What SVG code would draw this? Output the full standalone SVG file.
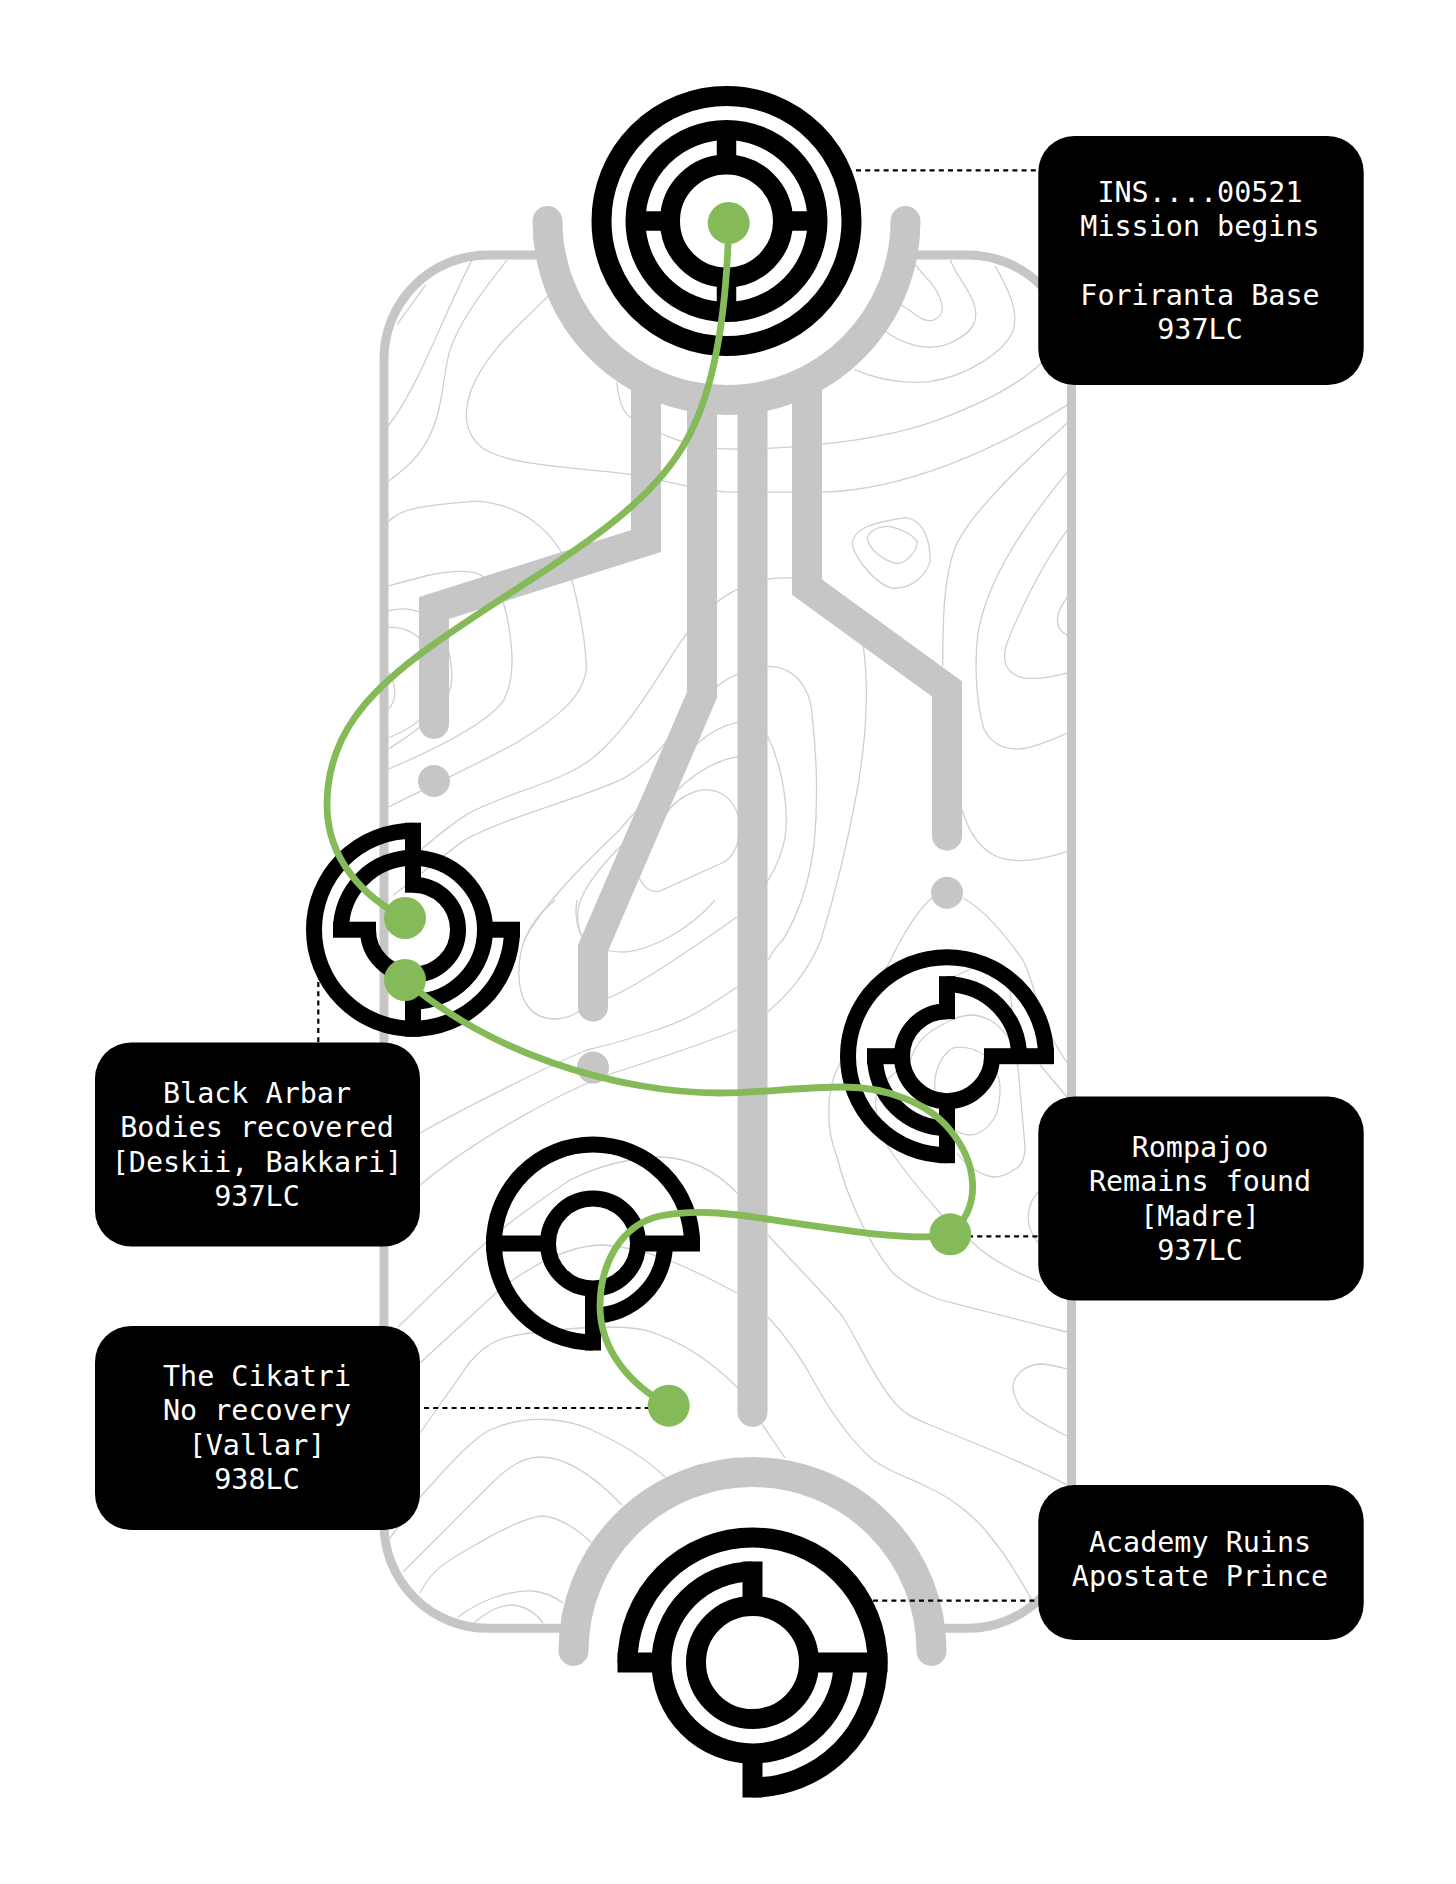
<svg xmlns="http://www.w3.org/2000/svg" width="1456" height="1884" viewBox="0 0 1456 1884">
<style>
.c{fill:none;stroke:#cfcfcf;stroke-width:1.3;vector-effect:non-scaling-stroke}
.bus{fill:none;stroke:#c6c6c6;stroke-width:30;stroke-linecap:round;stroke-linejoin:miter;stroke-miterlimit:10}
.dot{fill:#c6c6c6}
.k{fill:none;stroke:#000;stroke-width:16}
.K{fill:none;stroke:#000;stroke-width:20}
.b{fill:#000}
.lead{fill:none;stroke:#000;stroke-width:2.2;stroke-dasharray:5 4.2}
.g{fill:none;stroke:#84ba58;stroke-width:6.8;stroke-linecap:round}
.gd{fill:#84ba58}
text{font-family:"DejaVu Sans Mono","Liberation Mono",monospace;font-size:28.4px;fill:#fff;text-anchor:middle}
</style>
<defs><clipPath id="mapclip"><rect x="384" y="255" width="687.5" height="1373.3" rx="104"/></clipPath></defs>
<rect width="1456" height="1884" fill="#fff"/>
<g id="contours" clip-path="url(#mapclip)">
<g transform="translate(370 240) scale(.4464)">
<path class="c" d="M228,45C180,140 140,240 105,310C85,350 65,385 42,415"/>
<path class="c" d="M307,45C260,105 200,180 178,250C160,320 165,385 125,455C105,490 75,515 42,540"/>
<path class="c" d="M125,100L60,190"/>
<path class="c" d="M400,125C330,195 260,250 225,340C210,390 210,430 250,465C300,500 400,505 585,525C650,535 740,565 825,565L1012,565C1200,560 1400,470 1562,370"/>
<path class="c" d="M553,318C556,360 570,395 590,400C650,440 730,468 800,468C950,470 1150,450 1280,400C1400,355 1470,310 1510,270"/>
<path class="c" d="M1190,145C1220,165 1240,185 1260,180C1290,170 1285,145 1270,115C1255,90 1235,75 1222,55"/>
<path class="c" d="M1155,205C1190,230 1240,250 1290,235C1340,215 1365,190 1355,150C1345,110 1315,85 1300,45"/>
<path class="c" d="M1085,290C1140,315 1190,322 1250,318C1340,305 1420,250 1440,205C1455,160 1430,110 1400,58"/>
<path class="c" d="M42,630C70,600 120,595 235,585C330,590 400,640 440,720C465,800 480,880 485,950C485,1020 420,1070 330,1125C240,1175 130,1225 42,1270"/>
<path class="c" d="M42,775C110,755 180,735 235,745C280,760 300,800 310,860C320,920 325,980 300,1030C270,1075 170,1130 42,1185"/>
<path class="c" d="M42,830C90,820 120,830 145,860C175,890 185,950 183,990C175,1050 120,1090 42,1140"/>
<path class="c" d="M42,868C80,865 105,885 125,905L140,1040C120,1075 80,1100 42,1115"/>
<path class="c" d="M42,968C60,1000 60,1030 42,1050"/>
<path class="c" d="M945,757C890,755 850,765 800,795C760,820 720,860 680,925C620,1020 570,1100 500,1160C430,1215 300,1240 220,1285C180,1310 150,1335 115,1365"/>
<path class="c" d="M825,972C790,985 750,1020 710,1060C670,1115 640,1165 570,1205C480,1250 310,1290 210,1345L52,1468"/>
<path class="c" d="M825,1080C780,1090 750,1110 710,1150L560,1320C500,1380 400,1470 345,1568"/>
<path class="c" d="M825,1158C770,1165 720,1200 680,1240L575,1345C510,1405 465,1470 465,1510C465,1540 470,1555 480,1568"/>
<path class="c" d="M825,1290C810,1240 770,1225 730,1235C700,1245 675,1265 660,1290L600,1420C610,1450 630,1465 650,1458L790,1395C810,1385 825,1360 825,1335"/>
<path class="c" d="M890,1110C920,1170 935,1250 932,1320C925,1400 880,1450 830,1530"/>
<path class="c" d="M890,955C950,955 985,1000 990,1060C1000,1150 1005,1250 995,1350C985,1440 960,1510 925,1568C905,1585 898,1605 891,1613"/>
<path class="c" d="M1105,910C1120,1020 1110,1130 1090,1240C1070,1350 1040,1470 1010,1568C990,1620 950,1680 891,1729"/>
<path class="c" d="M1080,680C1085,650 1110,635 1200,622C1240,628 1255,670 1255,720C1240,765 1200,782 1170,780C1130,770 1085,710 1080,680Z"/>
<path class="c" d="M1114,668C1120,650 1140,640 1165,642C1195,648 1215,662 1226,675C1225,700 1200,725 1180,725C1150,718 1118,695 1114,668Z"/>
<path class="c" d="M1283,955C1283,850 1285,760 1310,690C1340,620 1440,520 1562,410"/>
<path class="c" d="M1562,520C1480,620 1385,750 1362,880C1352,960 1360,1040 1375,1095C1395,1135 1430,1145 1470,1138C1500,1132 1530,1118 1562,1105"/>
<path class="c" d="M1562,650C1510,720 1460,820 1428,900C1410,950 1430,985 1490,982C1515,982 1540,975 1562,970"/>
<path class="c" d="M1562,800C1535,835 1530,870 1562,885"/>
<path class="c" d="M1326,1275C1345,1340 1380,1390 1450,1390C1490,1392 1530,1380 1562,1370"/>
</g>
<path class="c" d="M555,900C525,925 518,950 519,977C520,1000 530,1018 553,1019C562,1019 572,1016 578,1012L608,998C630,990 690,950 737,917"/>
<path class="c" d="M577,900C574,915 577,925 580,933C590,945 600,952 625,952C650,950 690,930 715,900"/>
<path class="c" d="M737,987C710,1005 690,1020 650,1032C620,1042 600,1047 587,1050C550,1065 470,1105 420,1133"/>
<path class="c" d="M737,1030C700,1045 660,1058 613,1073C570,1088 480,1135 420,1185"/>
<path class="c" d="M398,1327L470,1257C500,1228 540,1200 570,1180C600,1165 630,1158 660,1157C695,1158 720,1175 737,1193"/>
<path class="c" d="M420,1363L497,1292C530,1265 570,1245 603,1245C650,1248 690,1268 737,1293"/>
<path class="c" d="M420,1433L470,1362C490,1338 510,1335 540,1332C580,1327 620,1325 645,1330C680,1340 710,1360 737,1387L785,1458"/>
<path class="c" d="M390,1538L420,1497C445,1470 470,1440 490,1430C530,1412 570,1420 592,1430C620,1443 645,1457 665,1477"/>
<path class="c" d="M403,1572L490,1485C510,1465 525,1457 540,1457C570,1457 600,1482 622,1505"/>
<path class="c" d="M420,1593C430,1572 445,1562 470,1548C500,1530 525,1518 542,1516C560,1517 578,1530 592,1543"/>
<path class="c" d="M458,1617C480,1600 510,1590 532,1591C545,1592 555,1597 563,1603"/>
<path class="c" d="M475,1622C490,1610 500,1605 512,1605C525,1606 535,1612 543,1623"/>
<path class="c" d="M768,1317C785,1335 800,1355 817,1387C830,1410 850,1440 873,1460C895,1475 915,1480 927,1487C950,1497 975,1515 993,1540C1010,1560 1020,1580 1032,1600"/>
<path class="c" d="M768,1235C800,1270 830,1300 843,1317C860,1345 880,1390 900,1408C910,1418 920,1420 930,1425C960,1437 1030,1465 1067,1485"/>
<path class="c" d="M932,898C915,912 900,940 888,965C860,1000 845,1030 840,1063C825,1090 826,1130 837,1157C845,1190 865,1240 893,1273C905,1283 915,1290 933,1297C945,1302 955,1303 960,1305L1067,1332"/>
<path class="c" d="M963,898C985,910 1005,935 1023,960C1035,985 1035,1000 1043,1020C1050,1035 1060,1052 1067,1063"/>
<path class="c" d="M910,1060C915,1045 925,1035 933,1030C950,1020 960,1015 973,1015C990,1017 1000,1025 1012,1043L1018,1067L1025,1147C1025,1160 1020,1168 1013,1170C1005,1176 998,1177 993,1177C980,1175 965,1165 957,1153"/>
<path class="c" d="M910,1060C895,1072 880,1085 877,1093C873,1105 878,1130 888,1147C900,1165 920,1190 940,1213C950,1225 960,1232 972,1242C985,1255 1010,1270 1040,1282"/>
<path class="c" d="M1010,990L1018,1067M973,968L947,980"/>
<path class="c" d="M935,1090C933,1075 940,1055 953,1048C965,1045 978,1050 987,1057C997,1068 1000,1080 1000,1087C1000,1105 997,1115 993,1120C985,1132 975,1135 970,1135C965,1135 958,1133 955,1130"/>
<path class="c" d="M1040,1065L1067,1097"/>
<path class="c" d="M1040,1190C1025,1205 1024,1225 1038,1243"/>
<path class="c" d="M1067,1369C1060,1367 1050,1364 1040,1364C1025,1365 1013,1375 1013,1388C1015,1400 1020,1407 1023,1410C1035,1420 1055,1430 1067,1436"/>
</g>
<rect id="frame" x="384" y="255" width="687.5" height="1373.3" rx="104" fill="none" stroke="#c6c6c6" stroke-width="9"/>
<circle cx="726.5" cy="221" r="179" fill="#fff"/>
<circle cx="752.5" cy="1651" r="179" fill="#fff"/>
<g id="routes">
<path class="bus" d="M547.5,221A179,179 0 0 0 905.5,221"/>
<path class="bus" d="M573.5,1651A179,179 0 0 1 931.5,1651"/>
<path class="bus" d="M646,390V541L434,608V724"/>
<path class="bus" d="M702,405V695L593,948V1006.7"/>
<path class="bus" d="M752.5,405V1412"/>
<path class="bus" d="M807,390V587L947,689V835.7"/>
<circle class="dot" cx="434" cy="781" r="16"/>
<circle class="dot" cx="593" cy="1067.6" r="16"/>
<circle class="dot" cx="947" cy="892.7" r="16"/>
</g>
<g id="node-foriranta" transform="translate(726.5 221)">
<circle class="K" r="125"/><circle class="K" r="91"/><circle class="K" r="56.5"/>
<rect class="b" x="-9.75" y="-85" width="19.5" height="32"/>
<rect class="b" x="-9.75" y="53" width="19.5" height="32"/>
<rect class="b" x="-85" y="-9.75" width="32" height="19.5"/>
<rect class="b" x="53" y="-9.75" width="32" height="19.5"/>
</g>
<g id="node-black-arbar" transform="translate(413 929.7)">
<path class="k" d="M0,-99A99,99 0 1 0 99,0"/>
<path class="k" d="M-72,0A72,72 0 1 1 0,72"/>
<path class="k" d="M0,-45A45,45 0 1 1 -45,0"/>
<rect class="b" x="-8" y="-107" width="16" height="70"/>
<rect class="b" x="64" y="-8" width="43" height="16"/>
<rect class="b" x="-80" y="-8" width="43" height="16"/>
<rect class="b" x="-8" y="64" width="16" height="43"/>
</g>
<g id="node-rompajoo" transform="translate(947 1056.2)">
<path class="k" d="M99,0A99,99 0 1 0 0,99"/>
<path class="k" d="M0,-72A72,72 0 0 1 72,0"/>
<path class="k" d="M-72,0A72,72 0 0 0 0,72"/>
<path class="k" d="M0,-45A45,45 0 1 0 45,0"/>
<rect class="b" x="37" y="-8" width="70" height="16"/>
<rect class="b" x="-8" y="45" width="16" height="62"/>
<rect class="b" x="-8" y="-80" width="16" height="43"/>
<rect class="b" x="-80" y="-8" width="43" height="16"/>
</g>
<g id="node-cikatri" transform="translate(593 1243.5)">
<path class="k" d="M99,0A99,99 0 1 0 0,99"/>
<circle class="k" r="45"/>
<path class="k" d="M72,0A72,72 0 0 1 0,72"/>
<rect class="b" x="-107" y="-8" width="62" height="16"/>
<rect class="b" x="45" y="-8" width="62" height="16"/>
<rect class="b" x="-8" y="45" width="16" height="62"/>
</g>
<g id="node-academy" transform="translate(752.5 1662.5)">
<path class="K" d="M-125,0A125,125 0 1 1 0,125"/>
<path class="K" d="M0,-91A91,91 0 1 0 91,0"/>
<circle class="K" r="56.5"/>
<rect class="b" x="-135" y="-10" width="44" height="20"/>
<rect class="b" x="-10" y="91" width="20" height="44"/>
<rect class="b" x="-10" y="-101" width="20" height="45"/>
<rect class="b" x="56" y="-10" width="79" height="20"/>
</g>
<g id="connectors">
<path class="lead" d="M856,170.3H1038"/>
<path class="lead" d="M318.3,982V1043"/>
<path class="lead" d="M968,1236.3H1038"/>
<path class="lead" d="M424,1408H648"/>
<path class="lead" d="M873,1600.7H1038"/>
<path class="g" d="M728.7,223C727,300 718,385 686,441C664,482 622,518 575,550C530,582 470,617 419,655C370,692 327,735 327,805C327,860 365,898 405,918"/>
<path class="g" d="M405,980C445,1015 500,1045 553,1063C610,1083 670,1093 720,1093C760,1093 800,1087 843,1087C890,1087 930,1105 950,1130C975,1160 985,1205 950,1234"/>
<path class="g" d="M950,1236C900,1240 840,1230 760,1218C720,1212 690,1210 660,1216C620,1225 600,1265 600,1306C600,1350 630,1385 668.7,1405.7"/>
<circle class="gd" cx="728.7" cy="223" r="21"/>
<circle class="gd" cx="405" cy="918" r="21"/>
<circle class="gd" cx="405" cy="980" r="21"/>
<circle class="gd" cx="950.3" cy="1234.3" r="21"/>
<circle class="gd" cx="668.7" cy="1405.7" r="21"/>
</g>
<g id="label-foriranta"><rect class="b" x="1038.3" y="136" width="325.4" height="249" rx="36"/>
<text x="1200" y="202.3">INS....00521</text><text x="1200" y="236.3">Mission begins</text><text x="1200" y="305">Foriranta Base</text><text x="1200" y="339">937LC</text></g>
<g id="label-black-arbar"><rect class="b" x="95" y="1042.5" width="325" height="204" rx="36"/>
<text x="257" y="1103.2">Black Arbar</text><text x="257" y="1137.4">Bodies recovered</text><text x="257" y="1171.6">[Deskii, Bakkari]</text><text x="257" y="1205.8">937LC</text></g>
<g id="label-rompajoo"><rect class="b" x="1038.3" y="1096.5" width="325.4" height="204" rx="36"/>
<text x="1200" y="1157">Rompajoo</text><text x="1200" y="1191.4">Remains found</text><text x="1200" y="1225.6">[Madre]</text><text x="1200" y="1259.8">937LC</text></g>
<g id="label-cikatri"><rect class="b" x="95" y="1326" width="325" height="204" rx="36"/>
<text x="257" y="1386">The Cikatri</text><text x="257" y="1420.3">No recovery</text><text x="257" y="1454.6">[Vallar]</text><text x="257" y="1488.9">938LC</text></g>
<g id="label-academy"><rect class="b" x="1038.3" y="1485" width="325.4" height="155" rx="36"/>
<text x="1200" y="1552">Academy Ruins</text><text x="1200" y="1586">Apostate Prince</text></g>
</svg>
